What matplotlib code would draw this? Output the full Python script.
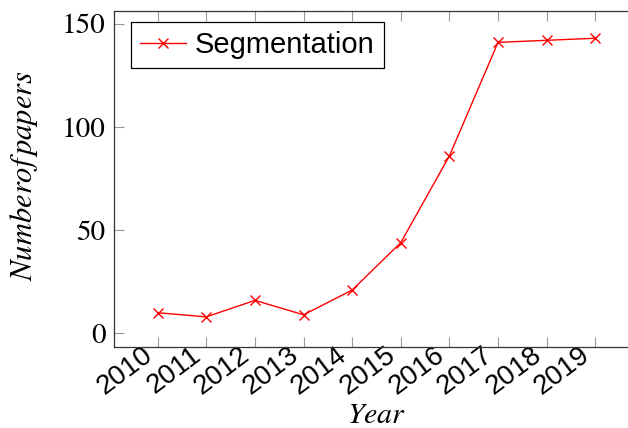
import matplotlib.pyplot as plt
from matplotlib.transforms import ScaledTranslation

years = [2010, 2011, 2012, 2013, 2014, 2015, 2016, 2017, 2018, 2019]
papers = [10, 8, 16, 9, 21, 44, 86, 141, 142, 143]
y_ticks = [0, 50, 100, 150]

plt.rcParams['mathtext.fontset'] = 'stix'

fig = plt.figure(figsize=(6.28, 4.28), dpi=100)
# right spine sits just outside the picture, as in the reference crop
ax = fig.add_axes([114 / 628, 1 - 347 / 428, (639 - 114) / 628, (347 - 11) / 428])

ax.plot(years, papers, color='red', lw=1.0, marker='x', ms=7, mew=1.0,
        label='Segmentation')

ax.set_xlim(2009.1, 2019.9)
ax.set_ylim(-6.6, 156.2)
ax.set_xticks(years)
ax.set_yticks(y_ticks)

ax.set_xticklabels([str(y) for y in years], rotation=37, ha='right',
                   rotation_mode='anchor', family='Liberation Sans', fontsize=20)
ax.set_yticklabels([str(t) for t in y_ticks], family='STIXGeneral', fontsize=21)

ax.tick_params(direction='in', length=7.5, width=0.8, color='#999999',
               top=True, right=True, pad=6)
ax.tick_params(axis='x', pad=0)
# shift the rotated year labels left/up, like pgfplots places them
shift = ScaledTranslation(-16 / 100, 5 / 100, fig.dpi_scale_trans)
for lab in ax.get_xticklabels():
    lab.set_transform(lab.get_transform() + shift)

for s in ax.spines.values():
    s.set_linewidth(0.9)
    s.set_color('#333333')

ax.set_xlabel('$Year$', fontsize=21.5)
ax.xaxis.set_label_coords(0.5, -0.157)
ax.set_ylabel('$Numberof\\,papers$', fontsize=22)
ax.yaxis.set_label_coords(-0.14, 0.51)

leg = ax.legend(loc='upper left', bbox_to_anchor=(17 / 525, 1 - 11 / 336),
                prop={'family': 'Liberation Sans', 'size': 21},
                fancybox=False, framealpha=1, edgecolor='black',
                handlelength=1.6, handletextpad=0.3, borderaxespad=0,
                borderpad=0.3)
leg.get_frame().set_linewidth(0.9)

fig.savefig('out.png', dpi=100)
